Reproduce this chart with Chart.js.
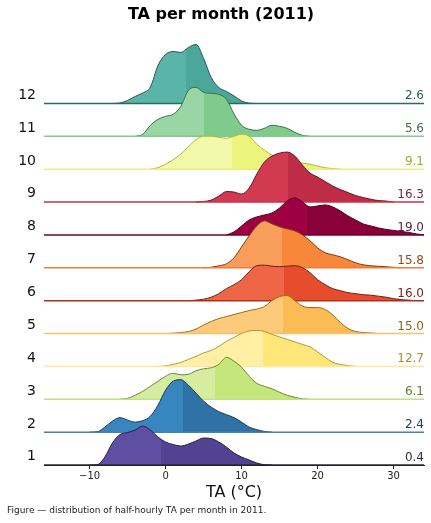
<!DOCTYPE html>
<html><head><meta charset="utf-8">
<script src="https://cdn.jsdelivr.net/npm/chart.js@4.4.1/dist/chart.umd.min.js"></script>
<style>
html,body{margin:0;padding:0;background:#fff;}
#wrap{position:relative;width:431px;height:523px;}
#cap{position:absolute;left:7px;top:505px;font:9px "DejaVu Sans",sans-serif;color:#222;white-space:nowrap;line-height:11px;}
</style></head><body>
<div id="wrap"><canvas id="c" width="431" height="523"></canvas><div id="cap">Figure — distribution of half-hourly TA per month in 2011.</div></div>
<script>
// ---- data ----
const months = ['1','2','3','4','5','6','7','8','9','10','11','12'];
const medians = ['0.4','2.4','6.1','12.7','15.0','16.0','15.8','19.0','16.3','9.1','5.6','2.6'];
const shadeSplit = [-0.6, 2.25, 6.5, 12.85, 15.5, 15.6, 15.3, 18.6, 16.1, 8.8, 5.05, 2.7];
const densStart = [-10, -10, -6, -1, 0, 3, 5, 8, 4, -2, -4, -7];
const dens01 = [0,0.3,8,22,30.5,32.5,35,39,35,28,23,20.5,19,21,24,27,26.5,23,18,12,8,5,2,0.3,0];
const dens02 = [0,0.3,5,11,14.5,12,10,11.5,16,27,42,51,52.5,47,39,31,25,20.5,17.5,14.5,10,5,2.5,0.7,0];
const dens03 = [0,1,4,8,13,18,23,26,24.5,25,28.5,30.5,31.5,35,42,38,32,23,16,13,10.5,7,4,2,0.5,0];
const dens04 = [0,0.5,2,4,7,10,13.5,16,20,25,29,33,35.5,36,35,32,29.5,27,24.5,22,19.5,14.5,9,4,2,0.7,0];
const dens05 = [0,0.3,1,2,4.5,8.5,12,15,17,19,21,23,24.5,27,33,37,38,33,27.5,26,26,24,18.5,11,5,2,1,0.5,0];
const dens06 = [0,0.5,1.5,3.5,7,12,16,21,29,35,35.5,34.5,34,34.5,35,33,28,21,16,12,10,8,7,6,5.5,4.5,3.5,2,1,0.5,0];
const dens07 = [0,0.5,2,4,10,21,32,42,47,44,41,39,37,33,27,20,15,13,11,8,5,3,2,1.5,1,0.5,0];
const dens08 = [0,3,9,15,18,20,22,27,34,37,33,28,29,30,28,24,19,15,11,9,7,5.5,4.5,3.5,2.5,1,0];
const dens09 = [0,0.5,2,6,10.5,10,8,14,28,40,46,49,50,46,37,29,25,20.5,16,12.5,9.5,6.5,4.5,2.8,1.5,1,0];
const dens10 = [0,1.5,5,9.5,15,22.5,29.5,33,33,32,31,33,35,33,25,19,14,11,9,7,6,5,3,1.5,0.5,0];
const dens11 = [0,2,11,17,20,22,30,46,49,44,43,42,37,22.5,11,7,6,8,11,10,8,4,1,0];
const dens12 = [0,0.5,3,7,10.5,16.5,38,49,52,51,56,59,45,26,16,12,7.5,2.5,0.3,0];
const xTicks = [-10, 0, 10, 20, 30];

// ---- styles ----
const lightColors = ['#5e4fa2','#3886c0','#d6eda0','#fff0a6','#fdca7b','#ee6646','#f99d5a','#9d0142','#d13a50','#f3f9aa','#99d5a5','#5ab4a8'];
const darkColors  = ['#514391','#2f73a6','#c4e67b','#fee679','#fcbc55','#e64d2c','#f88739','#8a0039','#be2c45','#ebf57c','#7fcb8d','#4aa79a'];
const edgeColors  = ['#2a2045','#1a3350','#6a8a30','#b09a30','#9a6a10','#6a2010','#7a3c10','#4a0020','#6b1525','#b0b828','#3e7048','#24544d'];
const baseColors  = ['#2a2550','#4a7fb0','#c0e08a','#fde8a0','#fcc070','#a8321e','#f57a3a','#6e0030','#c83048','#e8f07a','#80cb8e','#2a6b62'];
const labelColors = ['#30304a','#233d5c','#5c8020','#a8922c','#8d6518','#72281c','#8f4b1a','#5a1a32','#6e2a3a','#a3ab1c','#3b6e47','#2d5f57'];
const DENS_SCALE = 1 / 32.9;
const allDens = [dens01,dens02,dens03,dens04,dens05,dens06,dens07,dens08,dens09,dens10,dens11,dens12];

Chart.defaults.font.family = '"DejaVu Sans", sans-serif';
Chart.defaults.color = '#222';

function splitFill(ctx, i) {
  const chart = ctx.chart;
  const area = chart.chartArea;
  if (!area || !chart.scales.x) return lightColors[i];
  const px = chart.scales.x.getPixelForValue(shadeSplit[i]);
  let t = (px - area.left) / (area.right - area.left);
  t = Math.min(Math.max(t, 0), 1);
  const g = chart.ctx.createLinearGradient(area.left, 0, area.right, 0);
  g.addColorStop(0, lightColors[i]);
  g.addColorStop(t, lightColors[i]);
  g.addColorStop(t, darkColors[i]);
  g.addColorStop(1, darkColors[i]);
  return g;
}

const datasets = [];
allDens.forEach((d, i) => {
  datasets.push({
    data: d.map((v, k) => ({x: densStart[i] + k, y: i + v * DENS_SCALE})),
    order: 2 * (i + 1),
    borderColor: edgeColors[i],
    borderWidth: 1,
    pointRadius: 0,
    cubicInterpolationMode: 'monotone',
    fill: {value: i},
    backgroundColor: (ctx) => splitFill(ctx, i)
  });
  datasets.push({
    data: [{x: -16, y: i}, {x: 34, y: i}],
    order: 2 * (i + 1) - 1,
    borderColor: baseColors[i],
    borderWidth: 1.5,
    pointRadius: 0,
    fill: false
  });
});

const medianLabels = {
  id: 'medianLabels',
  afterDatasetsDraw(chart) {
    const {ctx, chartArea, scales} = chart;
    ctx.save();
    ctx.font = '12px "DejaVu Sans", sans-serif';
    ctx.textAlign = 'right';
    ctx.textBaseline = 'alphabetic';
    medians.forEach((m, i) => {
      ctx.fillStyle = labelColors[i];
      ctx.fillText(m, chartArea.right, scales.y.getPixelForValue(i) - 4);
    });
    ctx.restore();
  }
};

new Chart(document.getElementById('c'), {
  type: 'line',
  data: {datasets},
  options: {
    responsive: false,
    animation: false,
    events: [],
    layout: {padding: {left: 18, right: 7, top: 0, bottom: 21}},
    plugins: {
      legend: {display: false},
      tooltip: {enabled: false},
      title: {
        display: true,
        text: 'TA per month (2011)',
        color: '#000',
        font: {size: 16, weight: 'bold'},
        padding: {top: 5, bottom: 15.8}
      }
    },
    scales: {
      x: {
        type: 'linear',
        min: -16, max: 34,
        afterBuildTicks: (s) => { s.ticks = xTicks.map(v => ({value: v})); },
        afterFit: (s) => { s.height = 37; },
        grid: {display: true, drawOnChartArea: false, drawTicks: true, tickLength: 4, color: '#222'},
        border: {display: true, color: '#222', width: 1},
        ticks: {
          padding: 1,
          font: {size: 10},
          color: '#222',
          maxRotation: 0,
          callback: (v) => (v < 0 ? '\u2212' + Math.abs(v) : String(v))
        },
        title: {display: true, text: 'TA (°C)', font: {size: 16}, color: '#111', padding: 0}
      },
      y: {
        type: 'linear',
        min: 0, max: 12.93,
        afterBuildTicks: (s) => { s.ticks = months.map((m, i) => ({value: i + 0.25})); },
        afterFit: (s) => { s.width = 26; },
        grid: {display: false, drawTicks: false},
        border: {display: false},
        ticks: {
          padding: 8,
          autoSkip: false,
          font: {size: 14},
          color: '#111',
          callback: (v, idx) => months[idx]
        }
      }
    }
  },
  plugins: [medianLabels]
});
</script>
</body></html>
